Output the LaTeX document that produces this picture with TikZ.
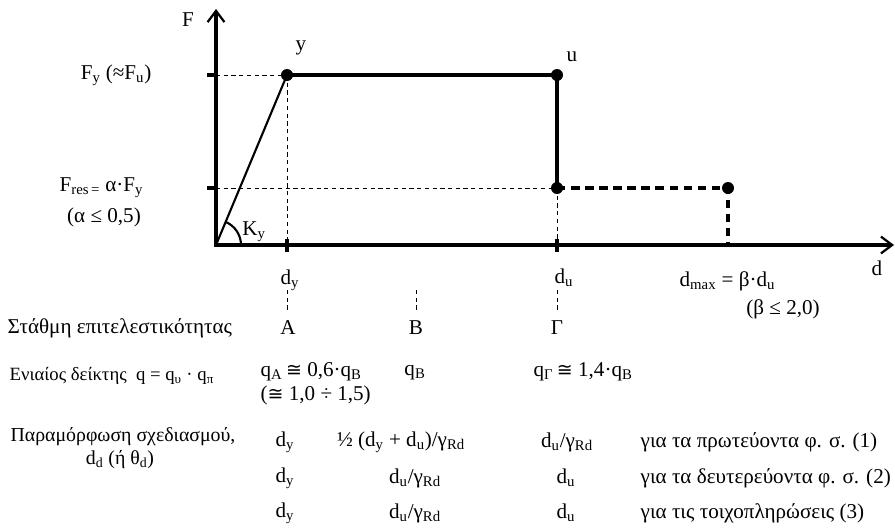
\documentclass[tikz,border=0pt]{standalone}
\usepackage{fontspec}
\setmainfont{Liberation Serif}
\newfontfamily\symfont[Scale=0.9]{DejaVu Sans}
\newcommand{\congsym}{{\symfont ≅}}
\usetikzlibrary{arrows.meta, positioning, calc}

\begin{document}
\begin{tikzpicture}[
  x=0.025cm, y=-0.025cm,
  font=\fontsize{15}{17}\selectfont,
  axis/.style  ={line width=2.2pt,
                 {Straight Barb[length=0.28cm, width=0.42cm, line width=1.6pt]}-{Straight Barb[length=0.28cm, width=0.42cm, line width=1.6pt]}},
  curve/.style ={line width=2.2pt},
  elastic/.style={line width=1.5pt},
  guide/.style ={line width=0.7pt, dash pattern=on 3pt off 2.5pt},
  resid/.style ={line width=2.2pt, dash pattern=on 6pt off 4pt},
  tick/.style  ={line width=2.2pt},
  dot/.style   ={circle, fill=black, inner sep=0pt, minimum size=0.3cm},
  lbl/.style   ={inner sep=1pt},
  small/.style ={inner sep=1pt, font=\fontsize{13.3}{15}\selectfont},
  mid/.style   ={inner sep=1pt, font=\fontsize{14.1}{16}\selectfont},
]
\useasboundingbox (0,0) rectangle (895,527);

% ----- Axes and points -----
\coordinate (O)    at (216,245);
\coordinate (yEnd) at (216,9);
\coordinate (xEnd) at (894,245);
\coordinate (aFy)  at (216,75);
\coordinate (aFr)  at (216,188);
\coordinate (bY)   at (287,245);
\coordinate (bU)   at (557,245);
\coordinate (bM)   at (728,245);

\node[dot] (Y) at (287,75)  {};
\node[dot] (U) at (557,75)  {};
\node[dot] (R) at (557,188) {};
\node[dot] (M) at (728,188) {};

% thin guides
\draw[guide] (aFy) -- (Y.center);
\draw[guide] (aFr) -- (R.center);
\draw[guide] (Y.center) -- (bY);
\draw[guide] (R.center) -- (bU);

% force-displacement law
\draw[elastic] (O) -- (Y.center);
\draw[curve] (Y.center) -- (U.center) -- (R.center);
\draw[resid] (R.center) -- (M.center) -- (bM);
\draw[elastic] ($(O)+(25,0)$) arc[start angle=0, end angle=67, radius=0.625cm];

\draw[axis] (yEnd) -- (O) -- (xEnd);

% ticks
\draw[tick] ($(aFy)+(-9,0)$) -- (aFy);
\draw[tick] ($(aFr)+(-9,0)$) -- (aFr);
\draw[tick] ($(bY)+(0,-6)$) -- ($(bY)+(0,7)$);
\draw[tick] ($(bU)+(0,-6)$) -- ($(bU)+(0,7)$);

% ----- Axis labels -----
\node[lbl] (lblF)  at (188,20)  {F};
\node[lbl] (lblD)  at (877,268) {d};
\node[lbl] (lblY)  at (301,48)  {y};
\node[lbl] (lblU)  at (572,57)  {u};
\node[lbl] (lblK)  at (254,232) {K\textsubscript{y}};
\node[lbl, anchor=east] (lblFy) at (153,75)  {F\textsubscript{y} (≈F\textsubscript{u})};
\node[lbl, anchor=east] (lblFr) at (145,188) {F\textsubscript{res\,=} α·F\textsubscript{y}};
\node[lbl] (lblAl) at (104,217) {(α ≤ 0,5)};

\node[lbl] (dY)   at (290,280) {d\textsubscript{y}};
\node[lbl] (dU)   at (564,278) {d\textsubscript{u}};
\node[lbl, anchor=west] (dMax) at (678,281) {d\textsubscript{max} = β·d\textsubscript{u}};
\node[lbl] (lblBe) at (783,309) {(β ≤ 2,0)};

% ----- Performance levels -----
\node[lbl, anchor=west] (rowLvl) at (6,328) {Στάθμη επιτελεστικότητας};
\node[lbl] (lvlA) at (288,328) {A};
\node[lbl] (lvlB) at (416,328) {B};
\node[lbl] (lvlG) at (557,328) {Γ};
\coordinate (gTop) at (0,290);
\coordinate (gBot) at (0,313);

\draw[guide] (bY |- gTop) -- (bY |- gBot);
\draw[guide] (lvlB |- gTop) -- (lvlB |- gBot);
\draw[guide] (bU |- gTop) -- (bU |- gBot);

% ----- Behaviour factor -----
\node[small, anchor=west] (rowQ) at (8,376) {Ενιαίος δείκτης\enspace q = q\textsubscript{υ} · q\textsubscript{π}};
\node[lbl, anchor=west, align=left] (qA) at (259,384)
  {q\textsubscript{A}\,\congsym\ 0,6·q\textsubscript{B}\\[0pt]
   (\congsym\ 1,0 ÷ 1,5)};
\node[lbl] (qB) at (415,373) {q\textsubscript{B}};
\node[lbl, anchor=west] (qG) at (532,372) {q\textsubscript{Γ}\,\congsym\ 1,4·q\textsubscript{B}};

% ----- Design deformation -----
\node[mid] (rowD)  at (123,437) {Παραμόρφωση σχεδιασμού,};
\node[mid] (rowD2) at (120,460) {d\textsubscript{d} (ή θ\textsubscript{d})};

\node[lbl] (dd1a) at (285,442) {d\textsubscript{y}};
\node[lbl] (dd2a) at (285,478) {d\textsubscript{y}};
\node[lbl] (dd3a) at (285,513) {d\textsubscript{y}};

\node[lbl] (dd1b) at (401,442) {½ (d\textsubscript{y} + d\textsubscript{u})/γ\textsubscript{Rd}};
\node[lbl] (dd2b) at (415,478) {d\textsubscript{u}/γ\textsubscript{Rd}};
\node[lbl] (dd3b) at (415,513) {d\textsubscript{u}/γ\textsubscript{Rd}};

\node[lbl] (dd1c) at (567,442) {d\textsubscript{u}/γ\textsubscript{Rd}};
\node[lbl] (dd2c) at (566,478) {d\textsubscript{u}};
\node[lbl] (dd3c) at (566,513) {d\textsubscript{u}};

\node[lbl, anchor=west] (dd1d) at (639,442) {για τα πρωτεύοντα φ. σ. (1)};
\node[lbl, anchor=west] (dd2d) at (639,478) {για τα δευτερεύοντα φ. σ. (2)};
\node[lbl, anchor=west] (dd3d) at (639,513) {για τις τοιχοπληρώσεις (3)};

\end{tikzpicture}
\end{document}
